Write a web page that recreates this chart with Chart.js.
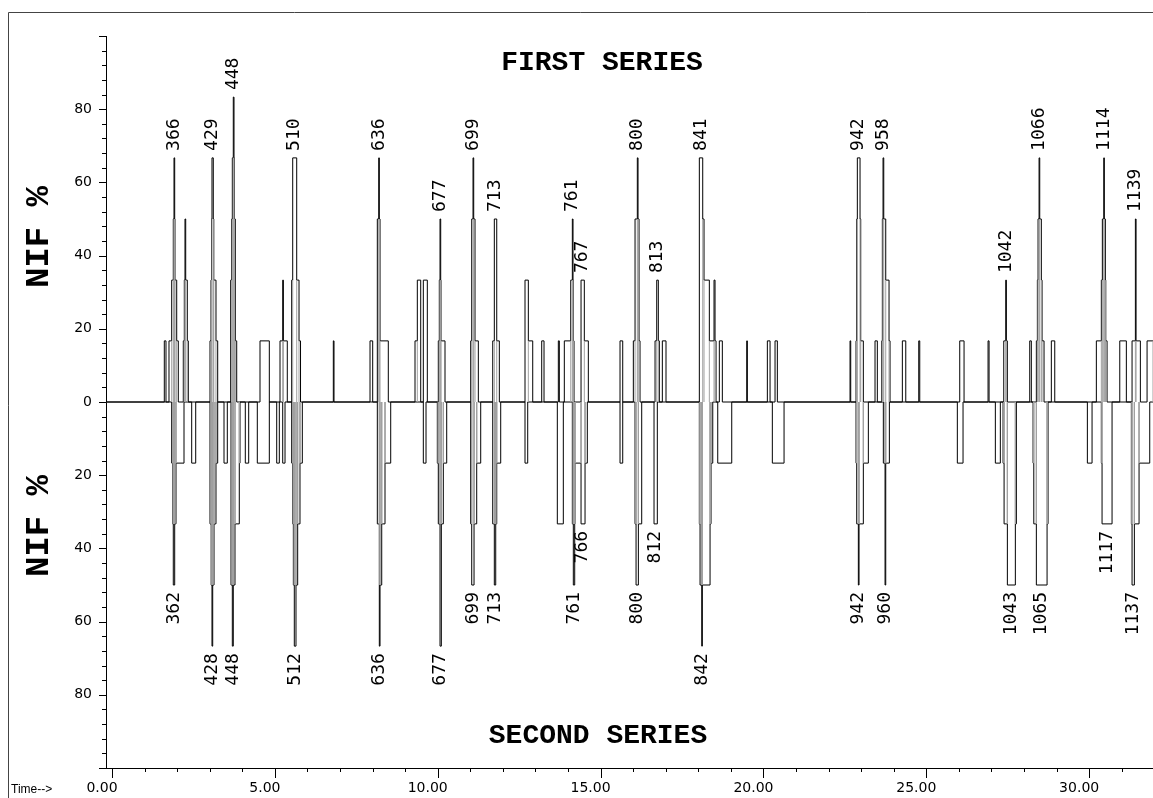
<!DOCTYPE html>
<html>
<head>
<meta charset="utf-8">
<script src="https://cdn.jsdelivr.net/npm/chart.js@4.4.1/dist/chart.umd.min.js"></script>
<style>
html,body{margin:0;padding:0;background:#fff;}
canvas{display:block;}
</style>
</head>
<body>
<canvas id="c" width="1153" height="798"></canvas>
<script>
// ---- data (time in min, NIF %) ----
const timeMin = -0.184, timeMax = 31.96;
// FIRST SERIES: step outline, value holds from this time until the next one
const upperSteps = [
[-0.184,0],
[1.606,16.7],[1.658,0],
[1.750,16.7],[1.833,33.3],[1.882,50],[1.904,66.7],[1.925,50],[1.934,33.3],[1.987,16.7],[2.036,0],
[2.189,16.7],[2.220,33.3],[2.241,50],[2.263,33.3],[2.312,16.7],[2.343,0],
[3.009,16.7],[3.040,33.3],[3.055,50],[3.070,66.7],[3.110,50],[3.125,33.3],[3.193,16.7],[3.245,0],
[3.644,33.3],[3.675,50],[3.694,66.7],[3.724,83.3],[3.746,66.7],[3.757,50],[3.786,16.7],[3.829,0],
[4.544,16.7],[4.830,0],
[5.158,16.7],[5.241,33.3],[5.262,16.7],[5.382,0],
[5.517,33.3],[5.548,66.7],[5.671,33.3],[5.742,16.7],[5.788,0],
[6.795,16.7],[6.816,0],
[7.922,16.7],[8.004,0],
[8.146,50],[8.189,66.7],[8.207,50],[8.229,16.7],[8.483,0],
[9.303,16.7],[9.374,33.3],[9.478,0],[9.558,33.3],[9.681,0],
[10.018,16.7],[10.049,33.3],[10.071,50],[10.092,33.3],[10.101,16.7],[10.224,0],
[11.013,16.7],[11.044,50],[11.084,66.7],[11.105,50],[11.145,16.7],[11.247,0],
[11.689,16.7],[11.738,50],[11.812,16.7],[11.892,0],
[12.680,33.3],[12.782,16.7],[12.917,0],
[13.193,16.7],[13.264,0],
[13.703,16.7],[13.734,0],
[13.887,16.7],[14.084,33.3],[14.133,50],[14.154,33.3],[14.163,16.7],[14.185,0],
[14.400,33.3],[14.501,16.7],[14.624,0],
[15.597,16.7],[15.680,0],
[16.006,16.7],[16.058,50],[16.128,66.7],[16.150,50],[16.181,16.7],[16.211,0],
[16.672,16.7],[16.724,33.3],[16.773,16.7],[16.804,0],
[16.896,16.7],[17.009,0],
[18.032,66.7],[18.136,50],[18.176,33.3],[18.339,16.7],[18.483,33.3],[18.514,16.7],[18.545,0],[18.646,16.7],[18.738,0],
[19.487,16.7],[19.506,0],
[20.120,16.7],[20.203,0],
[20.356,16.7],[20.427,0],
[22.659,16.7],[22.680,0],
[22.843,16.7],[22.864,50],[22.883,66.7],[22.966,50],[22.987,16.7],[23.067,0],
[23.426,16.7],[23.497,0],
[23.632,16.7],[23.651,50],[23.672,66.7],[23.694,50],[23.755,33.3],[23.856,16.7],[23.887,0],
[24.265,16.7],[24.370,0],
[24.768,16.7],[24.799,0],
[26.027,16.7],[26.159,0],
[26.896,16.7],[26.927,0],
[27.378,16.7],[27.439,33.3],[27.458,16.7],[27.488,0],
[28.176,16.7],[28.225,0],
[28.379,16.7],[28.410,33.3],[28.431,50],[28.462,66.7],[28.483,50],[28.532,33.3],[28.554,16.7],[28.615,0],
[28.839,16.7],[28.944,0],
[30.221,16.7],[30.374,33.3],[30.405,50],[30.448,66.7],[30.466,50],[30.497,33.3],[30.510,16.7],[30.550,0],
[30.940,16.7],[31.142,0],
[31.317,16.7],[31.419,50],[31.440,16.7],[31.572,0],
[31.778,16.7],[31.960,16.7]
];
// SECOND SERIES (NIF % read downward)
const lowerSteps = [
[-0.184,0],
[1.833,16.7],[1.864,33.3],[1.882,50],[1.925,33.3],[1.965,16.7],[2.211,0],
[2.447,16.7],[2.570,0],
[3.009,33.3],[3.045,50],[3.070,66.7],[3.092,50],[3.132,33.3],[3.193,16.7],[3.245,0],
[3.439,16.7],[3.540,0],
[3.654,50],[3.694,66.7],[3.724,50],[3.776,33.3],[3.908,16.7],[3.930,0],
[4.093,16.7],[4.197,0],
[4.461,16.7],[4.830,0],
[5.057,16.7],[5.137,0],[5.241,16.7],[5.312,0],
[5.517,16.7],[5.548,33.3],[5.568,50],[5.597,66.7],[5.649,50],[5.701,33.3],[5.772,16.7],[5.843,0],
[8.146,33.3],[8.207,66.7],[8.229,50],[8.281,33.3],[8.382,16.7],[8.557,0],
[9.558,16.7],[9.641,0],
[9.988,16.7],[10.018,33.3],[10.071,66.7],[10.111,33.3],[10.172,16.7],[10.276,0],
[11.013,33.3],[11.044,50],[11.115,33.3],[11.197,16.7],[11.320,0],
[11.689,33.3],[11.738,50],[11.781,33.3],[11.812,16.7],[11.934,0],
[12.680,16.7],[12.763,0],
[13.672,33.3],[13.856,0],
[14.133,33.3],[14.163,50],[14.206,33.3],[14.215,16.7],[14.400,33.3],[14.523,16.7],[14.593,0],
[15.597,16.7],[15.680,0],
[16.058,33.3],[16.089,50],[16.160,33.3],[16.263,0],
[16.641,33.3],[16.742,0],
[18.032,33.3],[18.054,50],[18.106,66.7],[18.124,50],[18.361,33.3],[18.391,16.7],[18.444,0],
[18.597,16.7],[19.027,0],
[20.273,16.7],[20.633,0],
[22.843,16.7],[22.864,33.3],[22.914,50],[22.935,33.3],[23.067,16.7],[23.221,0],
[23.681,16.7],[23.734,50],[23.755,16.7],[23.866,0],
[25.953,16.7],[26.128,0],
[27.120,16.7],[27.273,0],
[27.357,16.7],[27.388,33.3],[27.489,50],[27.734,33.3],[27.765,0],
[28.278,16.7],[28.300,33.3],[28.379,50],[28.708,33.3],[28.738,0],
[29.945,16.7],[30.089,0],
[30.374,16.7],[30.396,33.3],[30.703,0],
[31.296,33.3],[31.317,50],[31.388,33.3],[31.532,16.7],[31.860,0],[31.960,0]
];
// peak annotations (scan numbers)
const upperPeakScans = ['366','429','448','510','636','677','699','713','761','767','800','813','841','942','958','1042','1066','1114','1139'];
const upperPeakTimes = [1.914,3.090,3.735,5.610,8.198,10.080,11.095,11.775,14.145,14.450,16.140,16.750,18.080,22.920,23.680,27.450,28.470,30.457,31.430];
const upperPeakNIF   = [66.7,66.7,83.3,66.7,66.7,50,66.7,50,50,33.3,66.7,33.3,66.7,66.7,66.7,33.3,66.7,66.7,50];
const lowerPeakScans = ['362','428','448','512','636','677','699','713','761','766','800','812','842','942','960','1043','1065','1117','1137'];
const lowerPeakTimes = [1.900,3.080,3.710,5.620,8.213,10.090,11.080,11.760,14.180,14.450,16.125,16.690,18.115,22.925,23.745,27.600,28.540,30.550,31.350];
const lowerPeakNIF   = [50,66.7,66.7,66.7,66.7,66.7,50,50,50,33.3,50,33.3,66.7,50,50,50,50,33.3,50];
// axis ticks
const xTickValues = [0,1,2,3,4,5,6,7,8,9,10,11,12,13,14,15,16,17,18,19,20,21,22,23,24,25,26,27,28,29,30,31];
const yTickValues = [-100,-96,-92,-88,-84,-80,-76,-72,-68,-64,-60,-56,-52,-48,-44,-40,-36,-32,-28,-24,-20,-16,-12,-8,-4,0,4,8,12,16,20,24,28,32,36,40,44,48,52,56,60,64,68,72,76,80,84,88,92,96,100];
const yLabelEvery = 20;
const xLabelEvery = 5;
const upperTitle = 'FIRST SERIES';
const lowerTitle = 'SECOND SERIES';
const yTitle = 'NIF %';
const xTitle = 'Time-->';

// ---- build ----
const upperData = upperSteps.map(p => ({x: p[0], y: p[1]}));
const lowerData = lowerSteps.map(p => ({x: p[0], y: -p[1]}));
// light inner edges: each step edge continued down to the baseline
function innerEdges(steps, sign) {
  const out = [];
  for (let i = 1; i < steps.length; i++) {
    const lo = Math.min(steps[i - 1][1], steps[i][1]);
    if (lo > 0) {
      out.push({x: steps[i][0], y: 0}, {x: steps[i][0], y: sign * lo}, {x: steps[i][0], y: null});
    }
  }
  return out;
}

const decor = {
  id: 'decor',
  afterDraw(chart) {
    const ctx = chart.ctx, a = chart.chartArea;
    const xs = chart.scales.x, ys = chart.scales.y;
    ctx.save();
    // outer frame
    ctx.strokeStyle = '#444'; ctx.lineWidth = 1;
    ctx.beginPath(); ctx.moveTo(8.5, 798); ctx.lineTo(8.5, 12.5); ctx.lineTo(1153, 12.5); ctx.stroke();
    // tick marks
    ctx.strokeStyle = '#000';
    ctx.beginPath();
    yTickValues.forEach(v => {
      const y = Math.round(ys.getPixelForValue(v)) + 0.5;
      const len = (v % yLabelEvery === 0) ? 7 : 4;
      ctx.moveTo(a.left - len, y); ctx.lineTo(a.left, y);
    });
    xTickValues.forEach(v => {
      const x = Math.round(xs.getPixelForValue(v)) + 0.5;
      const len = (v % xLabelEvery === 0) ? 10 : 4;
      ctx.moveTo(x, a.bottom); ctx.lineTo(x, a.bottom + len);
    });
    ctx.stroke();
    // titles
    ctx.fillStyle = '#000';
    ctx.font = 'bold 28px "Liberation Mono"';
    ctx.textAlign = 'center'; ctx.textBaseline = 'middle';
    ctx.fillText(upperTitle, 602, 63);
    ctx.fillText(lowerTitle, 598, 736);
    // y titles
    ctx.font = 'bold 34px "Liberation Mono"';
    [[39, 237], [39, 526]].forEach(p => {
      ctx.save(); ctx.translate(p[0], p[1]); ctx.rotate(-Math.PI / 2);
      ctx.fillText(yTitle, 0, 0); ctx.restore();
    });
    // x title
    ctx.font = '12px "Liberation Sans"';
    ctx.textAlign = 'left';
    ctx.fillText(xTitle, 11, 790);
    // peak labels
    ctx.font = '18px "DejaVu Sans Mono"';
    ctx.textBaseline = 'middle';
    upperPeakScans.forEach((s, i) => {
      const x = xs.getPixelForValue(upperPeakTimes[i]);
      const y = ys.getPixelForValue(upperPeakNIF[i]) - 7;
      ctx.save(); ctx.translate(x, y); ctx.rotate(-Math.PI / 2);
      ctx.textAlign = 'left'; ctx.fillText(s, 0, 0); ctx.restore();
    });
    lowerPeakScans.forEach((s, i) => {
      const x = xs.getPixelForValue(lowerPeakTimes[i]);
      const y = ys.getPixelForValue(-lowerPeakNIF[i]) + 7;
      ctx.save(); ctx.translate(x, y); ctx.rotate(-Math.PI / 2);
      ctx.textAlign = 'right'; ctx.fillText(s, 0, 0); ctx.restore();
    });
    ctx.restore();
  }
};

new Chart(document.getElementById('c'), {
  type: 'line',
  data: {
    datasets: [
      {label: 'inner1', data: innerEdges(upperSteps, 1), borderColor: '#a0a0a0', borderWidth: 1, pointRadius: 0, fill: false, spanGaps: false},
      {label: 'inner2', data: innerEdges(lowerSteps, -1), borderColor: '#a0a0a0', borderWidth: 1, pointRadius: 0, fill: false, spanGaps: false},
      {label: upperTitle, data: upperData, stepped: true, borderColor: '#000', borderWidth: 1, pointRadius: 0, fill: false},
      {label: lowerTitle, data: lowerData, stepped: true, borderColor: '#000', borderWidth: 1, pointRadius: 0, fill: false}
    ]
  },
  options: {
    responsive: false,
    animation: false,
    devicePixelRatio: 1,
    layout: {padding: {top: 36, left: 0, right: 0, bottom: 0}},
    plugins: {legend: {display: false}, tooltip: {enabled: false}},
    scales: {
      x: {
        type: 'linear', min: timeMin, max: timeMax,
        afterBuildTicks: s => { s.ticks = xTickValues.map(v => ({value: v})); },
        afterFit: s => { s.height = 30; },
        grid: {display: true, drawOnChartArea: false, drawTicks: false},
        border: {display: true, color: '#000', width: 1},
        ticks: {
          autoSkip: false, maxRotation: 0, minRotation: 0, padding: 12, labelOffset: -10,
          color: '#000', font: {family: 'DejaVu Sans', size: 14},
          callback: v => (v % xLabelEvery === 0 ? Number(v).toFixed(2) : '')
        }
      },
      y: {
        type: 'linear', min: -100, max: 100,
        afterBuildTicks: s => { s.ticks = yTickValues.map(v => ({value: v})); },
        afterFit: s => { s.width = 106; },
        grid: {display: true, drawOnChartArea: false, drawTicks: false},
        border: {display: true, color: '#000', width: 1},
        ticks: {
          autoSkip: false, padding: 14,
          color: '#000', font: {family: 'DejaVu Sans', size: 14},
          callback: v => ((v % yLabelEvery === 0 && Math.abs(v) < 100) ? String(Math.abs(v)) : '')
        }
      }
    }
  },
  plugins: [decor]
});
</script>
</body>
</html>
